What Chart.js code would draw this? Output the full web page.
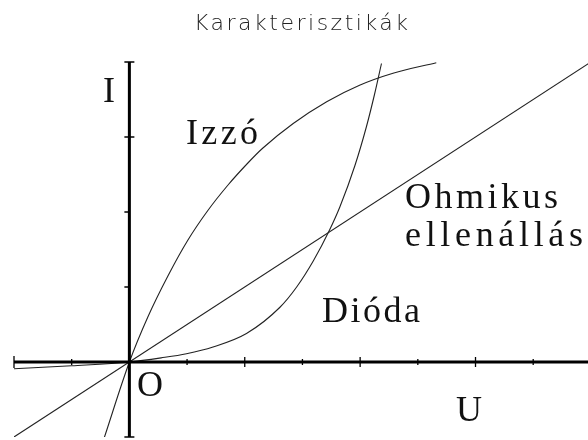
<!DOCTYPE html>
<html>
<head>
<meta charset="utf-8">
<script src="https://cdn.jsdelivr.net/npm/chart.js@4/dist/chart.umd.min.js"></script>
<style>
  body { margin: 0; background: #fff; }
  canvas { display: block; }
</style>
</head>
<body>
<canvas id="showGraphKarakterisztika" width="588" height="440"></canvas>
<script>
// adatok (U, I)
var ohmU = [-2, 8];
var ohmI = [-1, 4];

var izzoU = [-0.44, 0, 0.32, 0.67, 1.01, 1.36, 1.71, 2.05, 2.31, 2.84, 3.42, 3.99, 4.57, 5.32];
var izzoI = [-1.02, 0, 0.60, 1.15, 1.62, 2.02, 2.36, 2.65, 2.85, 3.18, 3.47, 3.69, 3.85, 3.99];

var diodaU = [-2, -1, 0, 0.55, 0.99, 1.45, 2.03, 2.61, 2.90, 3.19, 3.47, 3.65, 3.91, 4.11, 4.25, 4.37];
var diodaI = [-0.09, -0.05, 0, 0.055, 0.11, 0.20, 0.38, 0.73, 1.0, 1.35, 1.76, 2.07, 2.62, 3.14, 3.57, 3.98];

var xTicks = [-1, 1, 2, 3, 4, 5, 6, 7];
var yTicks = [1, 2, 3];

var title = 'Karakterisztikák';

function toPoints(us, is) {
    return us.map(function (u, i) { return { x: u, y: is[i] }; });
}

function lineSet(label, us, is) {
    return {
        label: label,
        data: toPoints(us, is),
        showLine: true,
        borderColor: '#222',
        borderWidth: 1.1,
        pointRadius: 0,
        cubicInterpolationMode: 'monotone',
        fill: false
    };
}

// szöveg adott szélességre nyújtva (betűköz)
function spacedText(ctx, text, x, y, width) {
    ctx.letterSpacing = '0px';
    var w = ctx.measureText(text).width;
    if (width && text.length > 1) {
        ctx.letterSpacing = Math.max(0, (width - w) / (text.length - 1)) + 'px';
    }
    ctx.fillText(text, x, y);
    ctx.letterSpacing = '0px';
}

// tengelyek, osztások és feliratok
var axesPlugin = {
    id: 'axes',
    afterDatasetsDraw: function (chart) {
        var ctx = chart.ctx;
        var xs = chart.scales.x, ys = chart.scales.y;
        var x0 = xs.getPixelForValue(0), y0 = ys.getPixelForValue(0);
        ctx.save();
        ctx.strokeStyle = '#000';
        ctx.lineWidth = 3;
        ctx.beginPath();
        ctx.moveTo(xs.getPixelForValue(-2), y0);
        ctx.lineTo(chart.width, y0);
        ctx.moveTo(x0, ys.getPixelForValue(4));
        ctx.lineTo(x0, ys.getPixelForValue(-1));
        ctx.stroke();

        ctx.lineWidth = 1.3;
        ctx.beginPath();
        // végek
        var xl = xs.getPixelForValue(-2);
        ctx.moveTo(xl, y0 - 6); ctx.lineTo(xl, y0 + 6);
        var yt = ys.getPixelForValue(4), yb = ys.getPixelForValue(-1);
        ctx.moveTo(x0 - 5, yt); ctx.lineTo(x0 + 5, yt);
        ctx.moveTo(x0 - 5, yb); ctx.lineTo(x0 + 5, yb);
        xTicks.forEach(function (v) {
            var px = xs.getPixelForValue(v);
            var h = (v % 2 === 0) ? 5 : 3;
            ctx.moveTo(px, y0 - h); ctx.lineTo(px, y0 + h);
        });
        yTicks.forEach(function (v) {
            var py = ys.getPixelForValue(v);
            ctx.moveTo(x0 - 5, py); ctx.lineTo(v === 3 ? x0 + 5 : x0, py);
        });
        ctx.stroke();

        ctx.fillStyle = '#222';
        ctx.textBaseline = 'alphabetic';
        ctx.textAlign = 'left';
        ctx.font = '300 22px "DejaVu Sans"';
        spacedText(ctx, title, 194, 30, 214);

        ctx.fillStyle = '#111';
        ctx.font = '36px "Liberation Serif"';
        spacedText(ctx, 'I', 103, 102);
        spacedText(ctx, 'Izzó', 186, 144, 72);
        spacedText(ctx, 'Ohmikus', 405, 208, 153);
        spacedText(ctx, 'ellenállás', 405, 246, 178);
        spacedText(ctx, 'Dióda', 322, 322, 98);
        spacedText(ctx, 'O', 137, 396);
        spacedText(ctx, 'U', 456, 421);
        ctx.restore();
    }
};

new Chart(document.querySelector('#showGraphKarakterisztika').getContext('2d'), {
    type: 'scatter',
    data: {
        datasets: [
            lineSet('Ohmikus ellenállás', ohmU, ohmI),
            lineSet('Izzó', izzoU, izzoI),
            lineSet('Dióda', diodaU, diodaI)
        ]
    },
    options: {
        responsive: false,
        animation: false,
        layout: { padding: { left: 14, right: 0, top: 62, bottom: 3 } },
        scales: {
            x: { type: 'linear', min: -2, max: 7.95, display: false },
            y: { type: 'linear', min: -1, max: 4, display: false }
        },
        plugins: {
            legend: { display: false },
            tooltip: { enabled: false },
            title: { display: false }
        }
    },
    plugins: [axesPlugin]
});
</script>
</body>
</html>
